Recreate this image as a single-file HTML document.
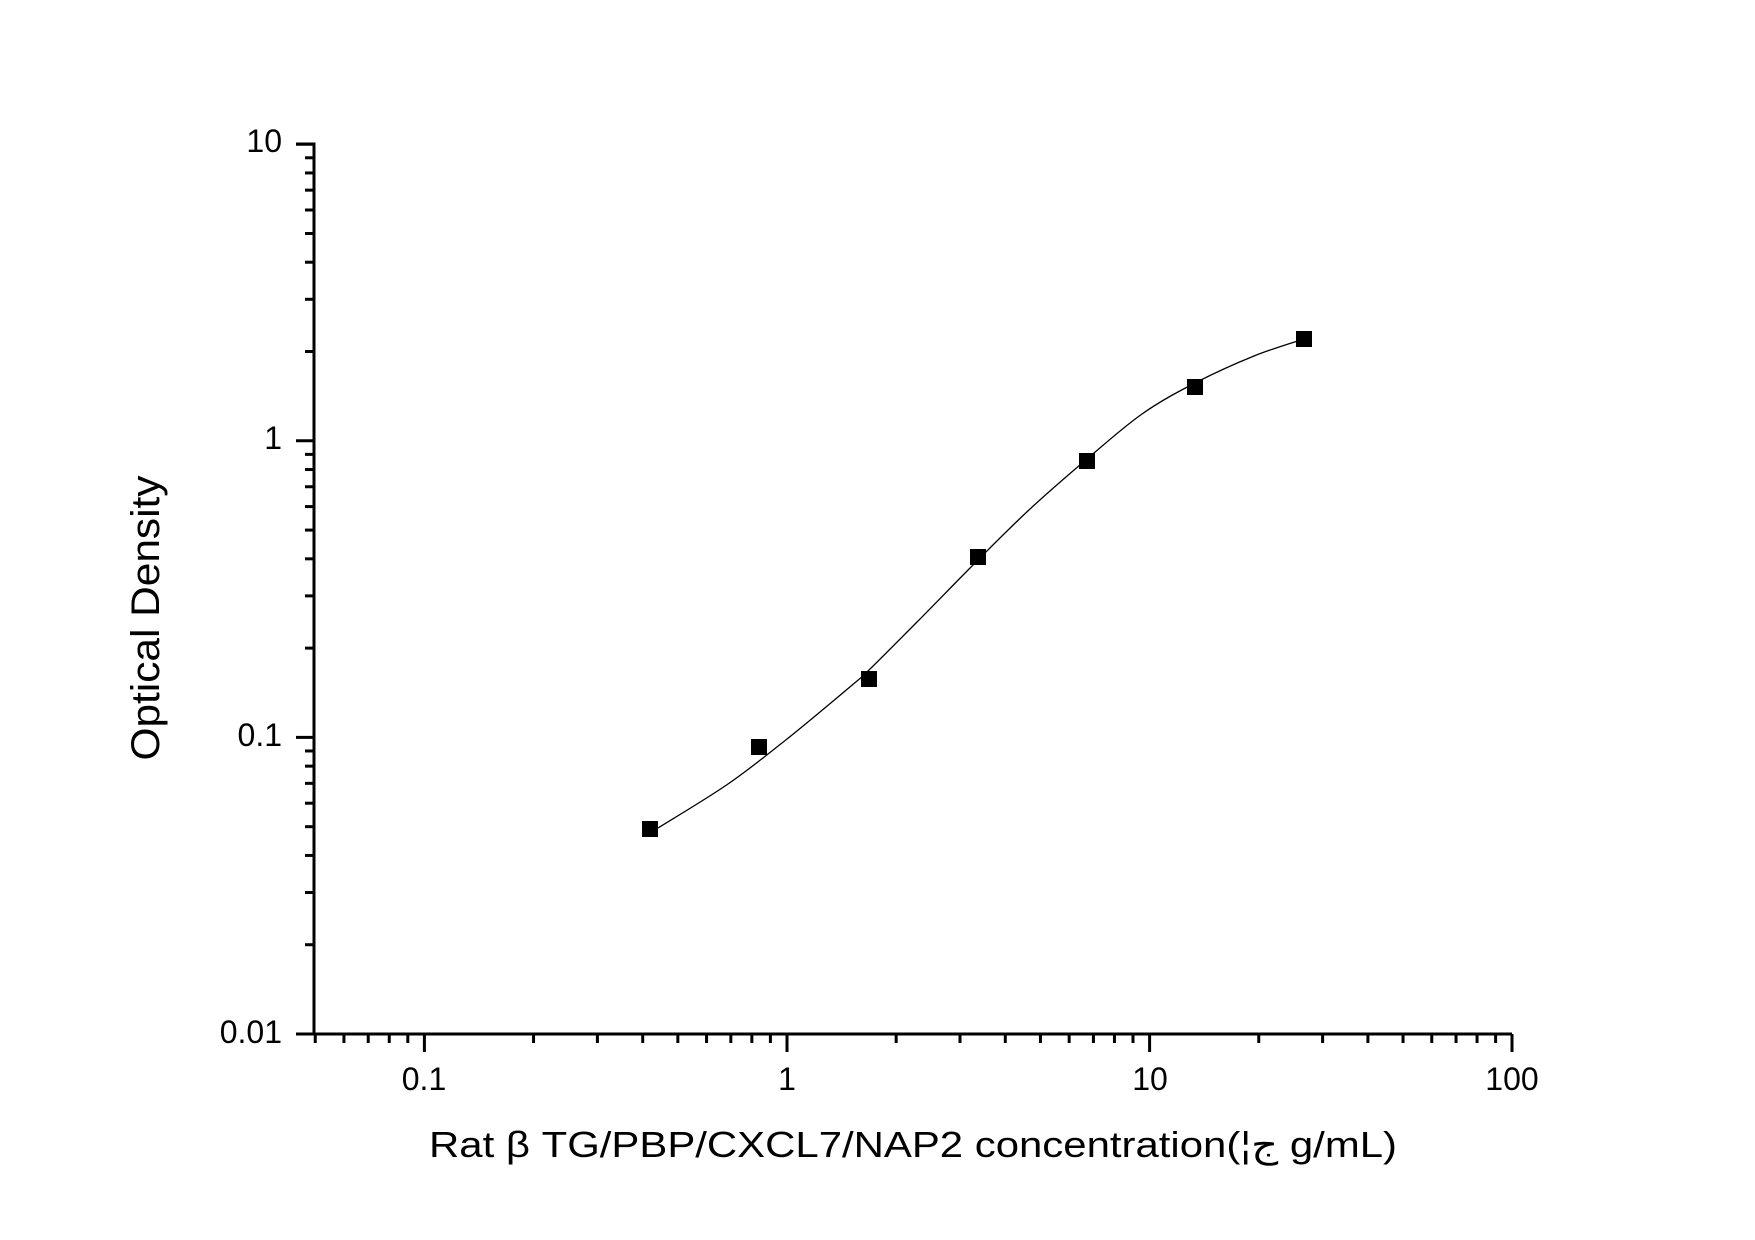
<!DOCTYPE html>
<html><head><meta charset="utf-8"><style>
html,body{margin:0;padding:0;background:#fff;}
svg{display:block;}
text{font-family:"Liberation Sans",Arial,sans-serif;fill:#000;}
</style></head><body>
<svg id="s" width="1755" height="1240" viewBox="0 0 1755 1240" xmlns="http://www.w3.org/2000/svg">
<g id="g"></g>
<text x="282" y="152" font-size="32" text-anchor="end">10</text>
<text x="282" y="449" font-size="32" text-anchor="end">1</text>
<text x="282" y="746" font-size="32" text-anchor="end">0.1</text>
<text x="282" y="1043" font-size="32" text-anchor="end">0.01</text>
<text x="424" y="1090" font-size="32" text-anchor="middle">0.1</text>
<text x="787" y="1090" font-size="32" text-anchor="middle">1</text>
<text x="1150" y="1090" font-size="32" text-anchor="middle">10</text>
<text x="1512" y="1090" font-size="32" text-anchor="middle">100</text>
<text transform="translate(159,618) rotate(-90)" font-size="40" text-anchor="middle" textLength="285" lengthAdjust="spacingAndGlyphs">Optical Density</text>
<text x="429" y="1157" font-size="36" textLength="968" lengthAdjust="spacingAndGlyphs">Rat β TG/PBP/CXCL7/NAP2 concentration(¦ج g/mL)</text>
</svg>
<script>
var g=document.getElementById('g'),h='';
function X(v){return 787+362.6*Math.log10(v);}
function Y(v){return 440.8-296.6*Math.log10(v);}
h+='<line x1="314" y1="142.5" x2="314" y2="1035.5" stroke="#000" stroke-width="3"/>';
h+='<line x1="312.5" y1="1034" x2="1512" y2="1034" stroke="#000" stroke-width="3"/>';
[0.01,0.1,1,10].forEach(function(d){for(var k=1;k<10;k++){var v=d*k;if(v>10)break;var y=Y(v);var L=(k==1)?18:9;h+='<line x1="'+(314-L)+'" y1="'+y+'" x2="314" y2="'+y+'" stroke="#000" stroke-width="3"/>';}});
h+='<line x1="296" y1="144" x2="314" y2="144" stroke="#000" stroke-width="3"/>';
[0.01,0.1,1,10].forEach(function(d){for(var k=1;k<10;k++){var v=d*k;if(v<0.05||v>100)continue;var x=X(v);var L=(k==1)?18:9;h+='<line x1="'+x+'" y1="1034" x2="'+x+'" y2="'+(1034+L)+'" stroke="#000" stroke-width="3"/>';}});
h+='<line x1="1512" y1="1034" x2="1512" y2="1052" stroke="#000" stroke-width="3"/>';
var p=[[658,828],[728,784],[787,739],[851,686],[869,670],[918,621],[978,560],[1030,509],[1087,459],[1142,414],[1195,383],[1254,356],[1304,339]];
var d='M'+p[0][0]+','+p[0][1];
for(var i=0;i<p.length-1;i++){var a=p[Math.max(i-1,0)],b=p[i],c=p[i+1],e=p[Math.min(i+2,p.length-1)];
d+=' C'+(b[0]+(c[0]-a[0])/6)+','+(b[1]+(c[1]-a[1])/6)+' '+(c[0]-(e[0]-b[0])/6)+','+(c[1]-(e[1]-b[1])/6)+' '+c[0]+','+c[1];}
h+='<path d="'+d+'" fill="none" stroke="#000" stroke-width="1.3"/>';
[[650,829],[759,747],[869,679],[978,557],[1087,461],[1195,387],[1304,339]].forEach(function(q){h+='<rect x="'+(q[0]-8)+'" y="'+(q[1]-8)+'" width="16" height="16" fill="#000"/>';});
g.innerHTML=h;
</script>
</body></html>
